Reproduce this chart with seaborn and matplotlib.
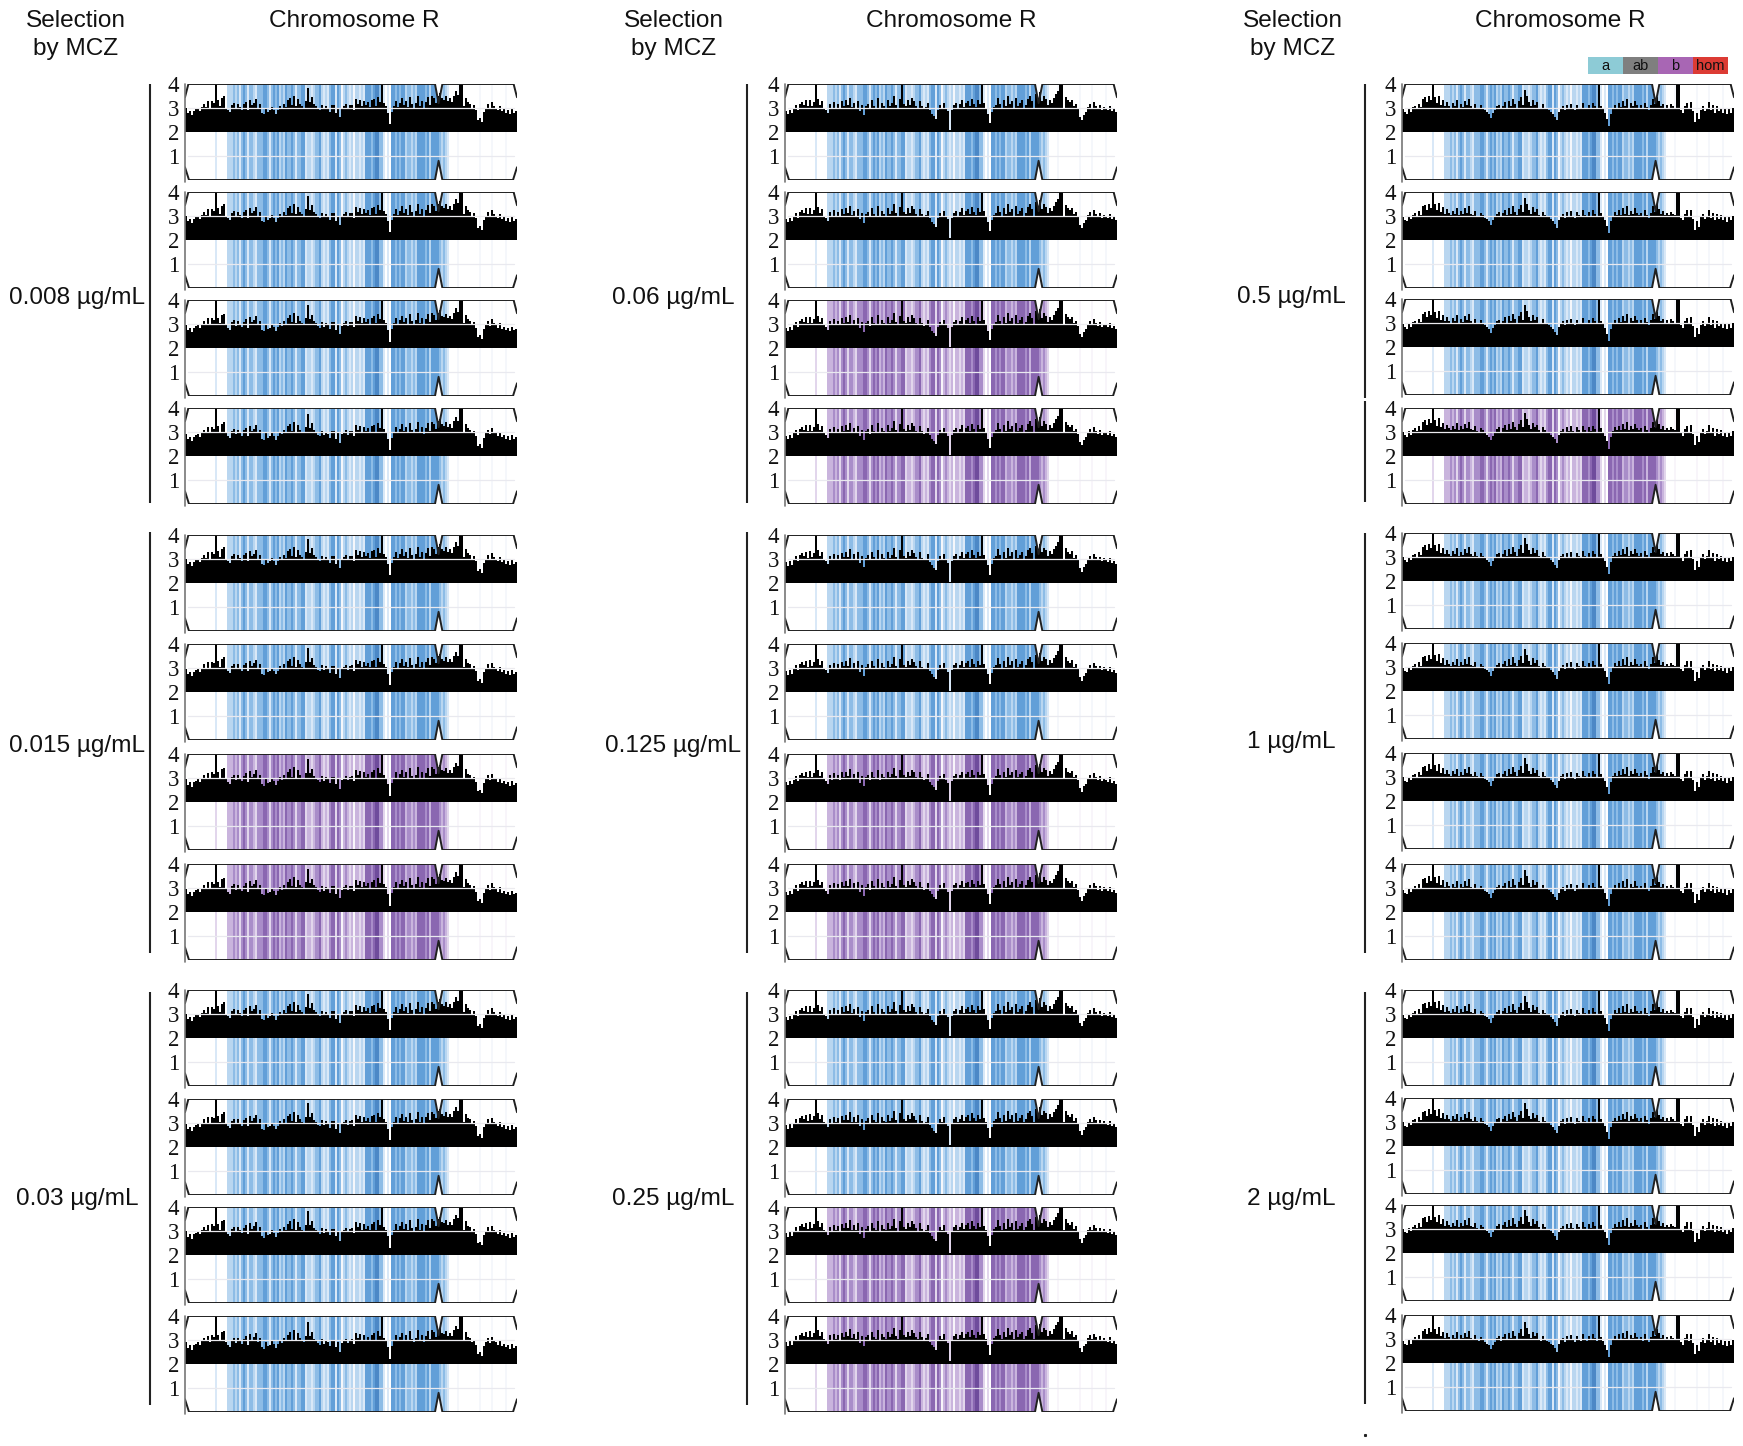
import numpy as np
import pandas as pd
import matplotlib
matplotlib.use("Agg")
import matplotlib.pyplot as plt
from matplotlib.colors import ListedColormap
import seaborn as sns

W, H = 1743, 1446

cov_col1 = [
    3.00, 2.78, 2.88, 2.70, 2.88, 2.95, 3.00, 2.88, 3.05, 3.18,
    3.05, 3.28, 3.02, 3.30, 3.22, 4.00, 3.32, 3.08, 3.42, 3.48,
    3.02, 2.90, 2.82, 3.12, 3.20, 2.98, 3.18, 3.05, 2.92, 3.15,
    3.25, 2.90, 3.34, 3.12, 3.22, 3.38, 3.02, 3.18, 2.80, 2.74,
    3.02, 2.85, 2.90, 3.05, 2.92, 2.76, 2.92, 3.10, 2.98, 3.18,
    3.05, 3.32, 3.42, 3.12, 3.50, 3.08, 3.38, 3.18, 3.08, 3.02,
    3.28, 3.85, 3.26, 3.44, 3.16, 3.08, 2.96, 2.90, 3.14, 2.94,
    3.10, 3.00, 2.84, 3.12, 3.12, 2.80, 3.02, 2.62, 2.98, 3.08,
    3.16, 2.96, 3.12, 3.14, 2.92, 3.38, 3.18, 3.34, 3.08, 3.30,
    3.12, 3.24, 3.06, 3.32, 3.38, 3.08, 3.46, 3.26, 4.00, 3.20,
    3.08, 2.80, 2.32, 2.85, 3.08, 3.30, 3.05, 3.22, 3.40, 3.12,
    3.30, 3.06, 3.46, 3.16, 3.02, 3.20, 3.50, 3.08, 3.30, 3.00,
    3.26, 3.46, 3.14, 3.50, 3.42, 3.22, 3.52, 3.62, 3.40, 3.34,
    3.48, 3.28, 3.40, 3.26, 3.52, 3.70, 3.55, 4.00, 4.00, 3.08,
    3.42, 3.24, 3.18, 3.02, 3.12, 2.90, 2.50, 2.58, 2.42, 2.85,
    3.02, 3.18, 2.98, 3.24, 3.08, 3.02, 2.90, 3.08, 2.86, 2.94,
    2.80, 2.90, 2.74, 2.94, 2.78, 2.86,
]
cov_col2 = [
    2.88, 2.74, 2.92, 2.78, 2.98, 3.14, 2.92, 3.18, 3.26, 3.14,
    3.32, 3.08, 3.34, 3.10, 3.26, 4.00, 3.38, 3.14, 3.30, 3.02,
    2.92, 2.80, 3.16, 2.98, 3.24, 3.02, 3.18, 2.98, 3.28, 3.10,
    3.32, 3.12, 3.42, 3.04, 3.22, 3.02, 3.30, 2.86, 3.14, 2.70,
    3.08, 3.18, 2.96, 3.32, 3.10, 3.02, 3.40, 2.98, 3.22, 3.08,
    3.02, 3.32, 3.08, 3.20, 3.48, 3.12, 3.00, 3.38, 4.00, 3.16,
    3.08, 3.32, 3.14, 3.40, 3.28, 3.10, 3.00, 3.30, 3.08, 2.96,
    3.04, 3.22, 2.90, 2.76, 2.66, 2.56, 2.92, 3.14, 3.02, 3.22,
    2.98, 2.86, 2.08, 2.92, 3.14, 3.22, 3.02, 3.16, 3.32, 3.06,
    3.22, 3.30, 3.08, 3.38, 3.18, 3.06, 3.32, 3.16, 4.00, 3.20,
    3.02, 2.76, 2.36, 2.82, 3.06, 3.14, 3.42, 3.18, 3.02, 3.32,
    3.08, 3.48, 3.16, 3.30, 3.02, 3.40, 3.08, 3.20, 3.32, 3.02,
    3.14, 3.38, 3.48, 3.28, 3.02, 3.58, 3.40, 3.65, 3.30, 3.48,
    3.38, 3.14, 3.34, 3.22, 3.42, 3.58, 3.72, 4.00, 4.00, 3.02,
    3.46, 3.32, 3.24, 3.34, 3.08, 3.18, 2.96, 2.64, 2.48, 2.70,
    2.82, 3.04, 3.16, 3.02, 3.24, 3.10, 2.96, 3.12, 2.92, 3.06,
    2.98, 2.90, 3.08, 2.86, 2.94, 2.82,
]
cov_col3 = [
    2.95, 2.82, 2.76, 2.98, 2.84, 3.04, 3.10, 2.98, 3.18, 3.04,
    3.38, 3.44, 3.24, 3.50, 3.32, 4.00, 3.46, 3.22, 3.52, 3.14,
    3.34, 3.08, 3.26, 3.10, 3.02, 3.20, 3.08, 3.32, 3.02, 3.18,
    3.06, 3.30, 3.12, 3.38, 3.08, 3.02, 3.18, 3.00, 2.96, 3.12,
    3.02, 2.90, 2.84, 2.76, 2.60, 2.80, 2.92, 3.08, 3.14, 2.96,
    3.10, 3.24, 3.02, 3.30, 3.08, 3.38, 3.16, 3.02, 3.28, 3.44,
    3.14, 3.75, 3.50, 3.24, 3.08, 3.34, 3.14, 3.26, 3.02, 2.96,
    3.16, 3.02, 2.96, 2.92, 2.84, 2.76, 2.64, 2.50, 2.82, 3.00,
    3.08, 2.90, 3.14, 2.98, 3.18, 2.98, 2.90, 3.14, 3.02, 2.96,
    3.22, 3.02, 2.96, 3.14, 2.98, 3.22, 3.08, 2.96, 4.00, 3.10,
    2.96, 2.80, 2.56, 2.26, 2.76, 3.00, 3.14, 3.02, 3.22, 3.04,
    3.30, 3.08, 3.38, 3.02, 3.20, 3.08, 3.30, 3.12, 3.02, 3.12,
    2.96, 3.22, 3.04, 2.90, 3.12, 3.38, 3.16, 3.46, 3.28, 3.08,
    3.18, 3.02, 3.12, 3.02, 3.16, 3.08, 3.02, 4.00, 4.00, 2.90,
    2.80, 3.08, 3.22, 2.96, 3.24, 2.86, 2.40, 2.78, 2.54, 2.92,
    3.08, 2.86, 3.00, 3.24, 2.90, 3.12, 2.80, 3.08, 2.86, 3.02,
    2.80, 2.96, 2.74, 2.94, 2.80, 2.98,
]

# level of the solid black body, one value per 10 px
body_col1 = [2.82, 2.90, 3.00, 3.00, 2.96, 2.98, 2.96, 2.88, 2.92, 2.98, 3.02, 3.00, 2.98, 2.94, 2.96, 2.92, 2.96,
             2.98, 3.00, 2.98, 3.00, 2.98, 2.96, 3.00, 3.00, 3.02, 3.02, 3.02, 2.98, 2.92, 2.96, 2.96, 2.90, 2.88]
body_col2 = [2.82, 2.92, 3.00, 2.98, 2.96, 3.00, 2.98, 2.92, 2.98, 2.98, 3.00, 3.00, 2.98, 3.00, 2.92, 2.80, 2.96,
             2.98, 3.00, 2.98, 2.98, 2.96, 2.98, 3.00, 2.98, 3.02, 3.02, 3.02, 2.98, 2.88, 2.96, 2.98, 2.96, 2.92]
body_col3 = [2.85, 2.94, 3.02, 3.02, 3.00, 2.98, 2.98, 2.96, 2.78, 2.96, 3.00, 3.00, 2.98, 2.98, 2.92, 2.78, 2.92,
             2.92, 2.96, 2.92, 2.86, 2.92, 2.96, 2.96, 2.96, 2.98, 2.96, 2.96, 2.92, 2.86, 2.92, 2.90, 2.88, 2.90]

# bins where the read-depth spike is wider than a hair
thick_bins = [98, 137, 138]

# heterozygosity stripes, shade 0 (white) to 6 (darkest), same 2 px bins
stripe_level = [
    0, 0, 0, 0, 0, 0, 0, 0, 0, 0,
    0, 0, 0, 0, 0, 2, 0, 0, 0, 0,
    0, 3, 3, 3, 4, 3, 4, 2, 4, 5,
    4, 2, 4, 4, 3, 2, 4, 4, 4, 5,
    5, 4, 2, 4, 5, 4, 5, 3, 4, 3,
    5, 4, 4, 5, 4, 2, 4, 4, 5, 5,
    2, 3, 3, 2, 3, 4, 4, 5, 3, 2,
    3, 2, 4, 5, 5, 2, 5, 4, 1, 3,
    4, 3, 2, 3, 1, 3, 3, 2, 3, 2,
    5, 5, 5, 4, 5, 6, 6, 4, 4, 2,
    0, 2, 0, 5, 5, 4, 5, 4, 5, 5,
    3, 4, 4, 3, 4, 3, 5, 5, 5, 5,
    4, 5, 3, 5, 5, 5, 5, 4, 3, 4,
    3, 2, 0, 0, 0, 0, 1, 0, 0, 0,
    0, 0, 0, 0, 0, 0, 0, 1, 0, 0,
    0, 0, 0, 1, 0, 0, 0, 0, 0, 0,
    1, 0, 0, 0, 0, 0,
]

blue_shades = ["#ffffff", "#f5f7fb", "#d9e8f7", "#b9d6f0", "#8dbce6", "#629fd8", "#4c88c6"]
purple_shades = ["#ffffff", "#f8f5fa", "#e2d6ec", "#c9b4dd", "#a98dc9", "#8a67b1", "#6f4c9c"]

tops_col1 = [84, 192, 300, 408, 535, 644, 754, 864, 990, 1099, 1207, 1316]
tops_col2 = [84, 192, 300, 408, 535, 644, 754, 864, 990, 1099, 1207, 1316]
tops_col3 = [84, 192, 299, 408, 533, 643, 753, 864, 990, 1098, 1205, 1315]
lefts = [185, 785, 1402]
panel_w, panel_h = 332, 96

# panels drawn in purple (b allele) instead of blue
purple_col1 = [6, 7]
purple_col2 = [2, 3, 6, 7, 10, 11]
purple_col3 = [3]

# small per panel shift of the coverage level
shift_col1 = [0.0, 0.0, -0.05, -0.08, 0.0, -0.03, -0.06, -0.05, 0.0, -0.03, -0.02, -0.1]
shift_col2 = [0.0, 0.0, -0.04, -0.04, -0.02, -0.02, -0.05, -0.03, 0.0, 0.02, 0.02, 0.03]
shift_col3 = [0.0, 0.02, 0.0, 0.05, 0.04, 0.02, 0.03, -0.02, 0.02, 0.03, 0.06, -0.03]

conc_col1 = ["0.008 µg/mL", "0.015 µg/mL", "0.03 µg/mL"]
conc_col2 = ["0.06 µg/mL", "0.125 µg/mL", "0.25 µg/mL"]
conc_col3 = ["0.5 µg/mL", "1 µg/mL", "2 µg/mL"]
legend_labels = ["a", "ab", "b", "hom"]
legend_colors = ["#8dcbd6", "#7f7f7f", "#a866b4", "#dc3b34"]

sns.set_theme(style="white")
plt.rcParams["font.family"] = ["Liberation Sans", "DejaVu Sans"]

fig = plt.figure(figsize=(W / 100, H / 100), dpi=100, facecolor="white")


def px_axes(x, y, w, h, **kws):
    return fig.add_axes([x / W, 1 - (y + h) / H, w / W, h / H], **kws)


def draw_panel(x, y, cov, body, shades, shift):
    n = len(stripe_level)
    back = px_axes(x, y, panel_w, panel_h)
    sns.heatmap(pd.DataFrame([stripe_level]), cmap=ListedColormap(shades), vmin=-0.5, vmax=6.5,
                cbar=False, xticklabels=False, yticklabels=False, ax=back)
    back.set_xlabel("")
    back.set_ylabel("")

    ax = px_axes(x, y, panel_w, panel_h, facecolor="none")
    # white corners and centromere notch
    ax.fill([-0.5, 1.2, -0.5], [4, 4, 3.45], color="white", lw=0, zorder=0)
    ax.fill([-0.5, 1.5, -0.5], [0, 0, 0.53], color="white", lw=0, zorder=0)
    ax.fill([165.5, 163.8, 165.5], [4, 4, 3.45], color="white", lw=0, zorder=0)
    ax.fill([165.5, 163.5, 165.5], [0, 0, 0.53], color="white", lw=0, zorder=0)
    ax.fill([124.5, 126.3, 128.2], [4, 3.2, 4], color="white", lw=0, zorder=0)
    ax.fill([124.5, 126.3, 128.2], [0, 0.8, 0], color="white", lw=0, zorder=0)

    tops = np.array(cov) + shift
    tops[np.array(cov) >= 4] = 4
    solid = np.minimum(np.repeat(body, 5)[:n] + shift, tops)
    solid[thick_bins] = 4
    # thin hairs first, then the solid body under them
    sns.barplot(x=np.arange(n), y=tops - 2, bottom=2, width=0.6, color="black", saturation=1,
                linewidth=0, ax=ax, zorder=2)
    sns.barplot(x=np.arange(n), y=solid - 2, bottom=2, width=1, color="black", saturation=1,
                linewidth=0, ax=ax, zorder=2)

    ax.plot([1, 164], [3, 3], color="#ecebef", lw=0.9, zorder=3)
    ax.plot([1, 164], [1, 1], color="#e9e9ef", lw=0.9, zorder=3)
    ax.plot([-0.5, 1.2, 124.5, 126.3, 128.2, 163.8, 165.5], [3.45, 4, 4, 3.2, 4, 4, 3.45],
            color="#202020", lw=1.4, zorder=4)
    ax.plot([-0.5, 1.5, 124.5, 126.3, 128.2, 163.5, 165.5], [0.53, 0, 0, 0.8, 0, 0, 0.53],
            color="#202020", lw=1.4, zorder=4)
    ax.plot([-0.5, -0.5], [-0.08, 3.98], color="#777777", lw=1.2, zorder=4, clip_on=False)

    ax.set_xlim(-0.5, n - 0.5)
    ax.set_ylim(0, 4)
    ax.set_xticks([])
    ax.set_xlabel("")
    ax.set_ylabel("")
    ax.set_yticks([1, 2, 3, 4])
    ax.set_yticklabels(["1", "2", "3", "4"], family=["Liberation Serif"], fontsize=16.5, color="#111111")
    ax.tick_params(axis="y", length=0, pad=4)
    sns.despine(ax=ax, left=True, bottom=True)


columns = [
    (tops_col1, cov_col1, body_col1, purple_col1, shift_col1),
    (tops_col2, cov_col2, body_col2, purple_col2, shift_col2),
    (tops_col3, cov_col3, body_col3, purple_col3, shift_col3),
]
for left, (tops, cov, body, purple, shift) in zip(lefts, columns):
    for i, top in enumerate(tops):
        shades = purple_shades if i in purple else blue_shades
        draw_panel(left, top, cov, body, shades, shift[i])

# page level text and group bars, in pixel coordinates
page = fig.add_axes([0, 0, 1, 1], facecolor="none")
page.set_xlim(0, W)
page.set_ylim(H, 0)
page.axis("off")

heads_sel = [76, 674, 1293]
heads_chr = [354, 951, 1560]
for xs, xc in zip(heads_sel, heads_chr):
    page.text(xs, 21, "Selection", ha="center", va="center", fontsize=17.6, color="#111111")
    page.text(xs, 49, "by MCZ", ha="center", va="center", fontsize=17.6, color="#111111")
    page.text(xc, 21, "Chromosome R", ha="center", va="center", fontsize=17.6, color="#111111")

conc_x = [77, 673, 1291]
conc_y_col = [[298, 746, 1199], [298, 746, 1199], [297, 742, 1199]]
for xc, ys, labels in zip(conc_x, conc_y_col, [conc_col1, conc_col2, conc_col3]):
    for yc, lab in zip(ys, labels):
        page.text(xc, yc, lab, ha="center", va="center", fontsize=17.6, color="#111111")

bars_col1 = [(84, 503), (532, 953), (992, 1405)]
bars_col2 = [(84, 503), (532, 953), (992, 1405)]
bars_col3 = [(84, 398), (401, 502), (533, 953), (992, 1404)]
for xb, spans in zip([150, 747, 1365], [bars_col1, bars_col2, bars_col3]):
    for y0, y1 in spans:
        page.plot([xb, xb], [y0, y1], color="#222222", lw=1.5, solid_capstyle="butt")
page.plot([1365], [1435], marker="s", ms=1.2, color="#222222")

# a / ab / b / hom key
key = px_axes(1588, 57, 140, 17)
sns.heatmap(pd.DataFrame([[0, 1, 2, 3]]), cmap=ListedColormap(legend_colors), vmin=-0.5, vmax=3.5, cbar=False,
            annot=np.array([legend_labels]), fmt="", annot_kws={"color": "#111111", "fontsize": 10.5},
            xticklabels=False, yticklabels=False, ax=key)
key.set_xlabel("")
key.set_ylabel("")

fig.savefig("out.png", dpi=100)
